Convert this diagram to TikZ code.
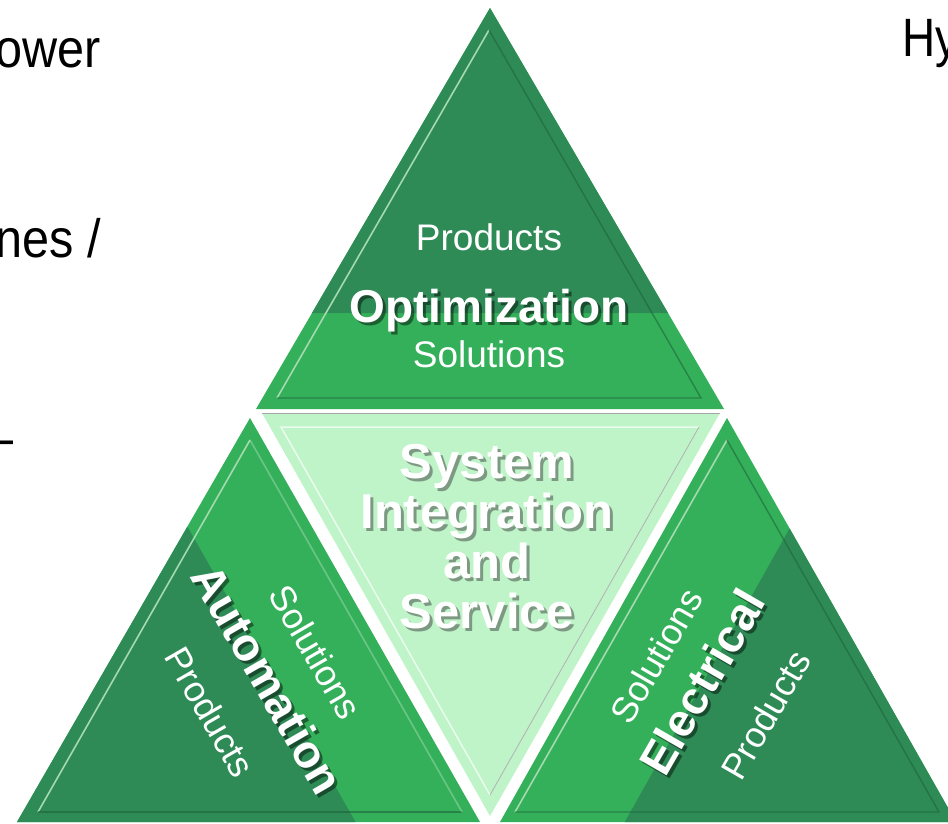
\documentclass[tikz,border=0pt]{standalone}
\usepackage{fontspec}
\setmainfont{Liberation Sans}
\definecolor{dkg}{RGB}{46,139,86}
\definecolor{mdg}{RGB}{52,176,90}
\definecolor{ltg}{RGB}{190,244,200}
\definecolor{hil}{RGB}{165,218,175}
\definecolor{shl}{RGB}{30,100,58}
\tikzset{
  lbl/.style={text=white,inner sep=0pt,font=\fontsize{37}{40}\selectfont},
  sidelbl/.style={text=white,inner sep=0pt,font=\fontsize{36}{38}\selectfont},
  bigw/.style={text=white,inner sep=0pt,font=\bfseries\fontsize{46}{48}\selectfont},
  bigs/.style={text=black,opacity=0.45,inner sep=0pt,font=\bfseries\fontsize{46}{48}\selectfont},
  midw/.style={text=white,inner sep=0pt,font=\bfseries\fontsize{49}{50}\selectfont},
  mids/.style={text=black!75,opacity=0.5,inner sep=0pt,font=\bfseries\fontsize{49}{50}\selectfont},
  frag/.style={text=black,inner sep=0pt,font=\fontsize{54}{60}\selectfont},
  hiline/.style={draw=hil,line width=1.6pt},
  shline/.style={draw=shl,line width=1.4pt,opacity=0.6}
}
\begin{document}
\begin{tikzpicture}[x=1pt,y=-1pt]
\useasboundingbox (0,0) rectangle (948,824);
\clip (0,0) rectangle (948,824);
% top triangle
\coordinate (tA) at (490,8);
\coordinate (tB) at (256,409);
\coordinate (tC) at (724,409);
\fill[mdg] (tA)--(tB)--(tC)--cycle;
\fill[dkg] (tA)--(312,313)--(668,313)--cycle;
\draw[hiline] (489,30)--(277,398);
\draw[shline] (489,30)--(701,398)--(277,398);
% middle inverted triangle
\coordinate (mA) at (262,413);
\coordinate (mB) at (720,413);
\coordinate (mC) at (490,816);
\fill[ltg] (mA)--(mB)--(mC)--cycle;
\draw[gray!70,line width=0.8pt] (mA)--(mB);
\draw[white,line width=1.5pt,opacity=0.7] (699,427)--(281,427)--(490,795);
\draw[gray!60,line width=0.8pt] (699,427)--(490,795);
% left triangle
\coordinate (lA) at (250,418);
\coordinate (lB) at (17,822);
\coordinate (lC) at (480,822);
\begin{scope}
\clip (lA)--(lB)--(lC)--cycle;
\fill[mdg] (0,400) rectangle (500,830);
\fill[dkg] (80,338)--(367.5,843)--(0,843)--(0,338)--cycle;
\end{scope}
\draw[hiline] (250,440)--(38,812);
\draw[shline] (38,812)--(462,812);
\draw[hiline,opacity=0.5] (462,812)--(250,440);
% right triangle
\coordinate (rA) at (727,418);
\coordinate (rB) at (500,822);
\coordinate (rC) at (956,822);
\begin{scope}
\clip (rA)--(rB)--(rC)--cycle;
\fill[mdg] (480,400) rectangle (960,830);
\fill[dkg] (896.5,338)--(613,843)--(960,843)--(960,338)--cycle;
\end{scope}
\draw[hiline] (727,440)--(515,812);
\draw[shline] (515,812)--(939,812)--(727,440);
% top texts
\node[lbl,anchor=base] (tprod) at (489,250) {Products};
\node[bigs,anchor=base] (toptS) at (492,325) {Optimization};
\node[bigw,anchor=base] (topt) at (489,322) {Optimization};
\node[lbl,anchor=base] (tsol) at (489,367) {Solutions};
% middle texts
\node[mids,anchor=base] (m1s) at (490,481) {System};
\node[mids,anchor=base] (m2s) at (490,531) {Integration};
\node[mids,anchor=base] (m3s) at (490,581) {and};
\node[mids,anchor=base] (m4s) at (490,631) {Service};
\node[midw,anchor=base] (m1) at (487,478) {System};
\node[midw,anchor=base] (m2) at (487,528) {Integration};
\node[midw,anchor=base] (m3) at (487,578) {and};
\node[midw,anchor=base] (m4) at (487,628) {Service};
% left texts
\node[sidelbl,rotate=-60] (lsol) at (316,652) {Solutions};
\node[bigs,rotate=-60] (lautS) at (271,682) {Automation};
\node[bigw,rotate=-60] (laut) at (268,679) {Automation};
\node[sidelbl,rotate=-60] (lprod) at (210,712) {Products};
% right texts
\node[sidelbl,rotate=60] (rsol) at (656,656) {Solutions};
\node[bigs,rotate=60] (relS) at (705,685) {Electrical};
\node[bigw,rotate=60] (rel) at (702,682) {Electrical};
\node[sidelbl,rotate=60] (rprod) at (766,715) {Products};
% cut-off fragments
\node[frag,anchor=base east] (f1) at (101,68) {\scalebox{0.9}[1]{ower}};
\node[frag,anchor=base east] (f2) at (101,257) {\scalebox{0.9}[1]{nes /}};
\node[frag,anchor=base east] (f3) at (14,456) {\scalebox{0.9}[1]{–}};
\node[frag,anchor=base west] (f4) at (902,57) {\scalebox{0.85}[1]{Hy}};
\end{tikzpicture}
\end{document}
